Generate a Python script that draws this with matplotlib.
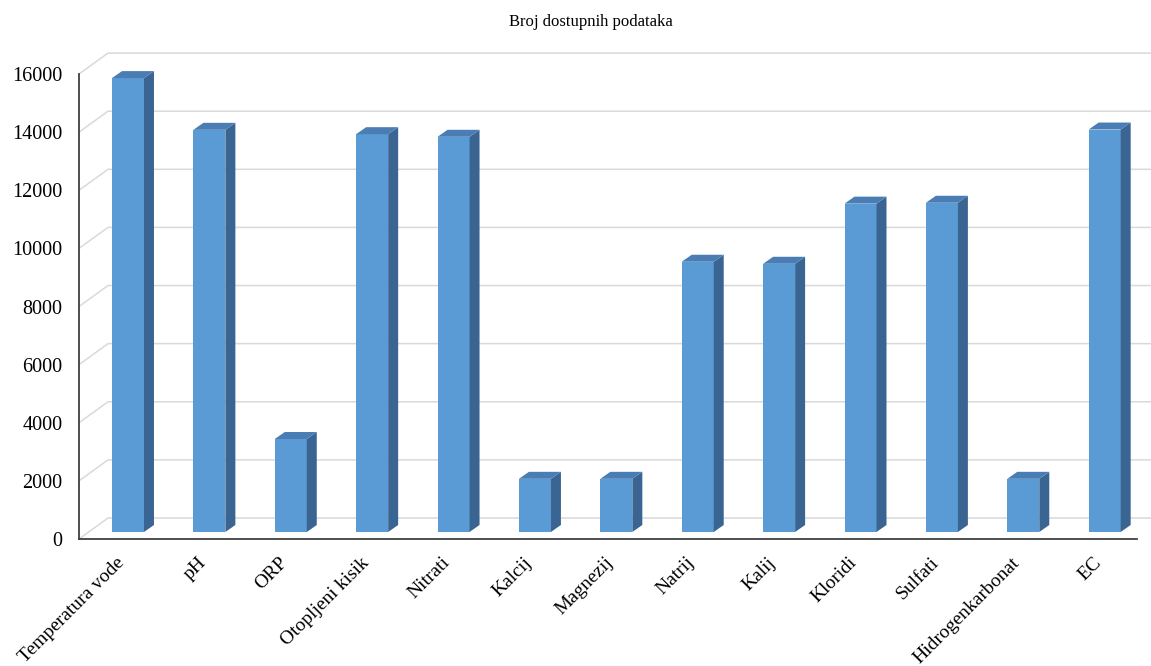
import matplotlib.pyplot as plt
from matplotlib.patches import Polygon
from matplotlib.transforms import offset_copy
import numpy as np

# data
categories = ['Temperatura vode', 'pH', 'ORP', 'Otopljeni kisik', 'Nitrati', 'Kalcij',
              'Magnezij', 'Natrij', 'Kalij', 'Kloridi', 'Sulfati', 'Hidrogenkarbonat', 'EC']
counts = [15620, 13840, 3200, 13690, 13600, 1830, 1830, 9300, 9230, 11300, 11330, 1830, 13850]
yticks = [0, 2000, 4000, 6000, 8000, 10000, 12000, 14000, 16000]
title = 'Broj dostupnih podataka'

plt.rcParams['font.family'] = ['Liberation Serif', 'DejaVu Serif']

fig = plt.figure(figsize=(11.51, 6.66), dpi=100)
ax = fig.add_axes([79/1151, 127/666, 1058/1151, 494/666])
ax.set_xlim(-0.479, 12.52)
ax.set_ylim(0, 17000)

# pixel -> data conversion helpers for the fake 3d depth
px_x = 1/81.4
px_y = 17000/494

front_c = '#5B9BD5'
top_c = '#4A7DB3'
side_c = '#3A6592'
grid_c = '#D9D9D9'

# back wall + left wall gridlines
bx, by = 29*px_x, 21*px_y
for t in yticks:
    ax.plot([-0.479, -0.479+bx, 12.52+0.2], [t, t+by, t+by], color=grid_c, lw=1.1,
            clip_on=False, zorder=1)

# bars (front face, top, side) sitting mid-depth
ox, oy = 10*px_x, 7*px_y
dx, dy = 10*px_x, 7*px_y
w = 32*px_x
x = np.arange(len(categories))
ax.bar(x+ox, counts, width=w, bottom=oy, color=front_c, zorder=3)
for xi, v in zip(x+ox, counts):
    l, r = xi-w/2, xi+w/2
    ax.add_patch(Polygon([(r, oy), (r+dx, oy+dy), (r+dx, oy+v+dy), (r, oy+v)],
                         closed=True, color=side_c, zorder=3, lw=0))
    ax.add_patch(Polygon([(l, oy+v), (l+dx, oy+v+dy), (r+dx, oy+v+dy), (r, oy+v)],
                         closed=True, color=top_c, zorder=3, lw=0))

# axes styling
for s in ['top', 'right']:
    ax.spines[s].set_visible(False)
ax.spines['left'].set_bounds(0, 16000)
ax.spines['left'].set_color('#404040')
ax.spines['bottom'].set_color('#404040')
ax.spines['left'].set_linewidth(1.3)
ax.spines['bottom'].set_linewidth(1.3)
ax.set_yticks(yticks)
ax.set_yticklabels([str(t) for t in yticks], fontsize=14.5)
ax.tick_params(axis='y', length=0, pad=12)
ax.set_xticks([])

# rotated category labels
tr = offset_copy(ax.transData, fig=fig, x=4, y=-21, units='dots')
for xi, lab in zip(x, categories):
    ax.text(xi, 0, lab, transform=tr, rotation=45, ha='right', va='center',
            rotation_mode='anchor', fontsize=14, clip_on=False)

fig.text(591/1151, 1-22/666, title, ha='center', va='center', fontsize=12)

fig.savefig('out.png', dpi=100)
